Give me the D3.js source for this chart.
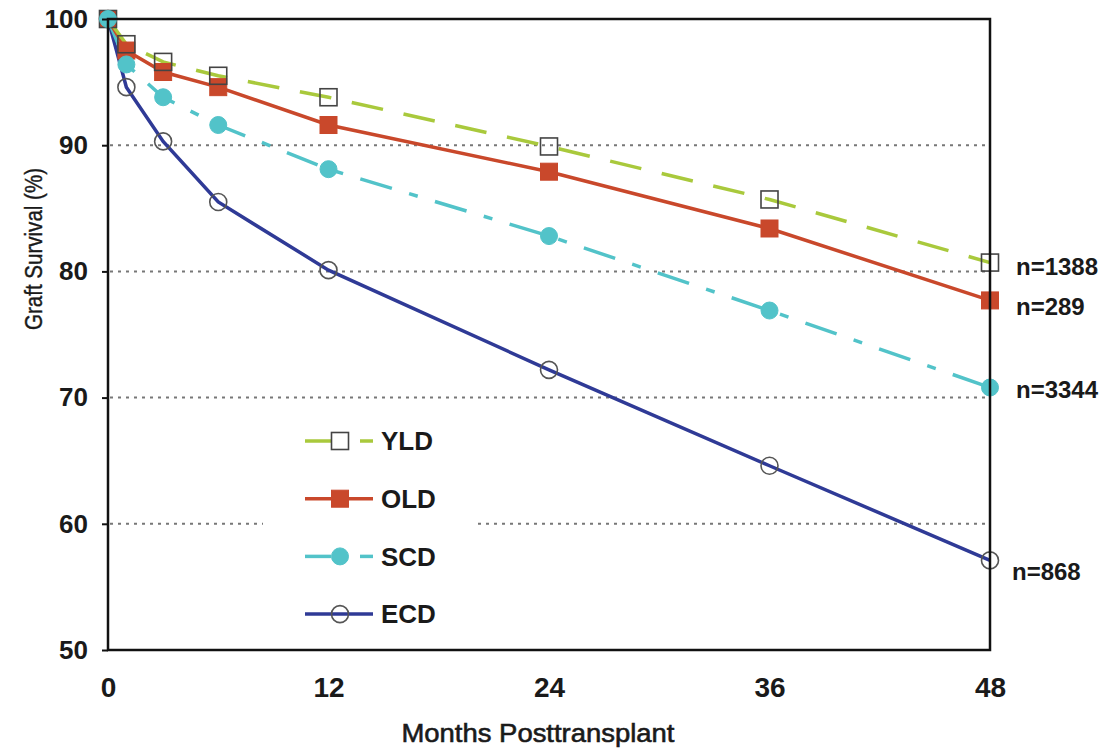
<!DOCTYPE html>
<html>
<head>
<meta charset="utf-8">
<script src="https://cdn.jsdelivr.net/npm/d3@7/dist/d3.min.js"></script>
<style>
  html, body { margin: 0; padding: 0; background: #fff; }
  svg { display: block; }
  text { font-family: "Liberation Sans", Arial, sans-serif; fill: #1a1a1a; }
</style>
</head>
<body>
<svg id="chart" width="1109" height="749"></svg>
<script>
// Months after transplant at which survival was estimated
const months = [0, 1, 3, 6, 12, 24, 36, 48];
// Graft survival (%) by donor group
const yld = [100, 98.0, 96.6, 95.5, 93.8, 89.9, 85.7, 80.7];
const old = [100, 97.5, 95.8, 94.6, 91.6, 87.9, 83.4, 77.7];
const scd = [100, 96.4, 93.8, 91.6, 88.1, 82.8, 76.9, 70.8];
const ecd = [100, 94.6, 90.3, 85.5, 80.1, 72.2, 64.6, 57.1];
const seriesNames = ["YLD", "OLD", "SCD", "ECD"];
const endLabels = ["n=1388", "n=289", "n=3344", "n=868"];
const xTicks = [0, 12, 24, 36, 48];
const yTicks = [50, 60, 70, 80, 90, 100];
const gridValues = [60, 70, 80, 90];

const svg = d3.select("#chart");
const plotLeft = 108, plotRight = 990, plotTop = 19, plotBottom = 650;

const x = d3.scaleLinear().domain([0, 48]).range([plotLeft, plotRight]);
const y = d3.scaleLinear().domain([50, 100]).range([plotBottom, plotTop]);

const styles = {
  YLD: { color: "#a9c93c", dash: "32,21", marker: "square", fill: "none", stroke: "#444", width: 3.5 },
  OLD: { color: "#c9482b", dash: null, marker: "square", fill: "#c9482b", stroke: "#c9482b", width: 3.5 },
  SCD: { color: "#52c3c9", dash: "33,18,9,18", marker: "circle", fill: "#52c3c9", stroke: "#52c3c9", width: 3.5 },
  ECD: { color: "#2f3a96", dash: null, marker: "circle", fill: "none", stroke: "#555", width: 3.5 }
};
const values = { YLD: yld, OLD: old, SCD: scd, ECD: ecd };

// dotted horizontal gridlines
const grid = svg.append("g");
gridValues.forEach(v => {
  grid.append("line")
    .attr("x1", plotLeft + 2).attr("x2", plotRight)
    .attr("y1", y(v)).attr("y2", y(v))
    .attr("stroke", "#777").attr("stroke-width", 2)
    .attr("stroke-dasharray", "3,5");
});

// survival curves
const line = d3.line().x((d, i) => x(months[i])).y(d => y(d));
["ECD", "SCD", "OLD", "YLD"].forEach(name => {
  const s = styles[name];
  svg.append("path")
    .datum(values[name])
    .attr("d", line)
    .attr("fill", "none")
    .attr("stroke", s.color)
    .attr("stroke-width", s.width)
    .attr("stroke-dasharray", s.dash);
});

function drawMarker(g, s, cx, cy) {
  const hollow = s.fill === "none";
  if (s.marker === "square") {
    g.append("rect")
      .attr("x", cx - 8.5).attr("y", cy - 8.5)
      .attr("width", 17).attr("height", 17)
      .attr("fill", s.fill)
      .attr("stroke", s.stroke).attr("stroke-width", hollow ? 1.6 : 1);
  } else {
    g.append("circle")
      .attr("cx", cx).attr("cy", cy).attr("r", 8.5)
      .attr("fill", s.fill)
      .attr("stroke", s.stroke).attr("stroke-width", hollow ? 1.6 : 1);
  }
}

const markers = svg.append("g");
["ECD", "OLD", "YLD", "SCD"].forEach(name => {
  const s = styles[name];
  values[name].forEach((v, i) => drawMarker(markers, s, x(months[i]), y(v)));
});

// frame
svg.append("rect")
  .attr("x", plotLeft).attr("y", plotTop)
  .attr("width", plotRight - plotLeft).attr("height", plotBottom - plotTop)
  .attr("fill", "none").attr("stroke", "#111").attr("stroke-width", 2.5);

// y axis
const yAxis = svg.append("g")
  .attr("transform", `translate(${plotLeft},0)`)
  .call(d3.axisLeft(y).tickValues(yTicks).tickSize(6).tickPadding(14));
yAxis.select(".domain").remove();
yAxis.selectAll("line").attr("stroke", "#111").attr("stroke-width", 2);
yAxis.selectAll("text")
  .style("font-family", "'Liberation Sans', Arial, sans-serif")
  .style("font-size", "26px").style("font-weight", "bold").attr("fill", "#222");

// x axis
const xAxis = svg.append("g")
  .attr("transform", `translate(0,${plotBottom})`)
  .call(d3.axisBottom(x).tickValues(xTicks).tickSize(0));
xAxis.select(".domain").remove();
xAxis.selectAll("text")
  .attr("y", 47).attr("dy", null)
  .style("font-family", "'Liberation Sans', Arial, sans-serif")
  .style("font-size", "28px").style("font-weight", "bold").attr("fill", "#222");

// axis titles
svg.append("text")
  .attr("x", 538).attr("y", 742)
  .attr("text-anchor", "middle")
  .attr("textLength", 273).attr("lengthAdjust", "spacingAndGlyphs")
  .attr("stroke", "#1a1a1a").attr("stroke-width", 0.6)
  .style("font-size", "26px")
  .text("Months Posttransplant");

svg.append("text")
  .attr("transform", "translate(42,249) rotate(-90)")
  .attr("text-anchor", "middle")
  .attr("textLength", 162).attr("lengthAdjust", "spacingAndGlyphs")
  .attr("stroke", "#1a1a1a").attr("stroke-width", 0.4)
  .style("font-size", "23px")
  .text("Graft Survival (%)");

// group sizes at 48 months
const labelShift = [12.5, 14.6, 10.5, 19.6];
seriesNames.forEach((name, i) => {
  const v = values[name][values[name].length - 1];
  svg.append("text")
    .attr("x", i === 3 ? 1012 : 1016).attr("y", y(v) + labelShift[i])
    .style("font-size", "24px").style("font-weight", "bold")
    .attr("fill", "#222")
    .text(endLabels[i]);
});

// legend
const legend = svg.append("g").attr("transform", "translate(263,420)");
legend.append("rect")
  .attr("x", 0).attr("y", 0).attr("width", 211).attr("height", 220)
  .attr("fill", "#fff");
seriesNames.forEach((name, i) => {
  const s = styles[name];
  const ly = 21 + i * 57.7;
  const row = legend.append("g");
  if (s.dash) {
    row.append("line").attr("x1", 42).attr("x2", 68).attr("y1", ly).attr("y2", ly)
      .attr("stroke", s.color).attr("stroke-width", 3.5);
    row.append("line").attr("x1", 97).attr("x2", 110).attr("y1", ly).attr("y2", ly)
      .attr("stroke", s.color).attr("stroke-width", 3.5);
  } else {
    row.append("line").attr("x1", 42).attr("x2", 110).attr("y1", ly).attr("y2", ly)
      .attr("stroke", s.color).attr("stroke-width", 3.5);
  }
  drawMarker(row, s, 77, ly);
  row.append("text")
    .attr("x", 118).attr("y", ly).attr("dy", "0.36em")
    .style("font-size", "26px").style("font-weight", "bold").attr("fill", "#1a1a1a")
    .text(name);
});
</script>
</body>
</html>
